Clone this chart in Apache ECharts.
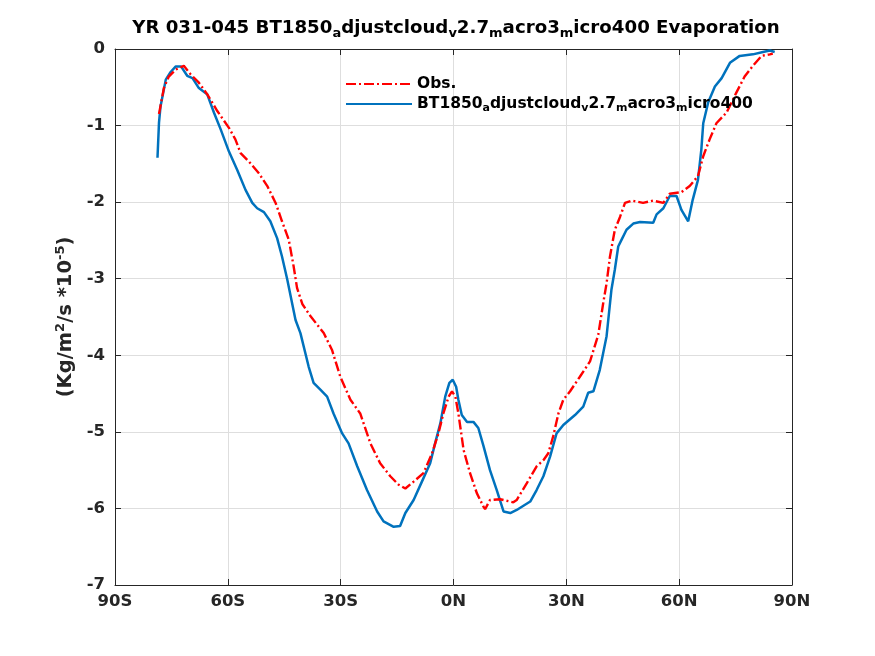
<!DOCTYPE html>
<html>
<head>
<meta charset="utf-8">
<script src="https://cdn.jsdelivr.net/npm/echarts@6/dist/echarts.min.js"></script>
<style>
  html, body { margin: 0; padding: 0; background: #fff; }
  #main { width: 875px; height: 656px; }
</style>
</head>
<body>
<div id="main"></div>
<script>
// x ticks (latitude) and y ticks
var xTicks = [-90, -60, -30, 0, 30, 60, 90];
var xTickLabels = ['90S', '60S', '30S', '0N', '30N', '60N', '90N'];
var yTicks = [-7, -6, -5, -4, -3, -2, -1, 0];

// model run (blue)
var modelLat = [-78.7, -78.3, -77.9, -76.5, -75.2, -73.9, -72.4, -70.8, -69.4, -67.7,
    -65.5, -63.7, -61.9, -59.7, -57.5, -55.3, -53.5, -52.2, -50.4, -48.7,
    -46.9, -45.6, -44.2, -42.0, -40.7, -38.5, -37.2, -35.4, -33.6, -31.9,
    -29.6, -27.9, -25.6, -23.0, -20.3, -18.6, -15.9, -14.2, -12.8, -10.6,
    -8.4, -6.2, -4.9, -3.5, -2.2, -1.1, -0.2, 0.7, 1.3, 2.2,
    3.6, 5.3, 6.6, 8.0, 9.7, 11.5, 13.3, 15.1, 16.8, 20.4,
    22.1, 23.9, 25.7, 27.4, 29.2, 32.3, 34.5, 35.8, 37.2, 38.9,
    40.7, 42.0, 42.9, 43.8, 44.7, 46.0, 47.8, 49.6, 53.1, 54.0,
    55.8, 57.5, 59.3, 60.6, 62.4, 63.6, 65.0, 65.9, 66.4, 67.7,
    69.5, 71.3, 73.5, 76.1, 79.6, 82.3, 84.1, 85.4];
var modelEvap = [-1.42, -0.96, -0.75, -0.40, -0.30, -0.23, -0.23, -0.35, -0.38, -0.51,
    -0.59, -0.83, -1.05, -1.34, -1.58, -1.84, -2.01, -2.08, -2.13, -2.25,
    -2.47, -2.71, -3.01, -3.54, -3.71, -4.15, -4.36, -4.45, -4.54, -4.76,
    -5.02, -5.15, -5.45, -5.76, -6.04, -6.17, -6.24, -6.23, -6.06, -5.89,
    -5.65, -5.41, -5.15, -4.89, -4.54, -4.36, -4.32, -4.41, -4.58, -4.78,
    -4.87, -4.87, -4.95, -5.19, -5.50, -5.76, -6.04, -6.06, -6.02, -5.91,
    -5.76, -5.58, -5.32, -5.02, -4.91, -4.78, -4.67, -4.49, -4.47, -4.19,
    -3.75, -3.14, -2.88, -2.58, -2.49, -2.36, -2.28, -2.26, -2.27, -2.16,
    -2.08, -1.92, -1.92, -2.10, -2.25, -1.97, -1.71, -1.31, -0.97, -0.70,
    -0.49, -0.38, -0.18, -0.09, -0.07, -0.04, -0.02, -0.04];

// observations (red)
var obsLat = [-78.3, -77.0, -75.7, -73.9, -71.7, -69.9, -67.7, -65.5, -62.8, -59.7,
    -58.0, -56.6, -54.4, -51.8, -49.5, -47.3, -45.6, -43.8, -42.5, -41.6,
    -40.2, -38.0, -34.5, -32.3, -30.1, -27.4, -24.8, -22.1, -19.5, -16.8,
    -14.6, -12.8, -10.6, -8.0, -5.7, -4.0, -2.7, -1.3, -0.4, 0.5,
    1.3, 2.7, 4.4, 6.2, 8.0, 8.4, 9.7, 12.4, 15.9, 16.8,
    19.5, 22.1, 23.9, 25.2, 26.5, 27.9, 29.2, 31.0, 33.6, 36.3,
    38.5, 39.8, 40.7, 41.6, 42.9, 44.3, 45.6, 47.4, 50.4, 53.1,
    55.8, 57.5, 60.6, 62.8, 65.0, 66.4, 68.1, 69.9, 72.6, 75.2,
    77.4, 79.6, 81.9, 84.1, 84.9];
var obsEvap = [-0.85, -0.51, -0.36, -0.27, -0.22, -0.33, -0.44, -0.59, -0.81, -1.03,
    -1.18, -1.36, -1.47, -1.62, -1.79, -2.01, -2.25, -2.49, -2.84, -3.12,
    -3.33, -3.49, -3.71, -3.93, -4.28, -4.58, -4.76, -5.15, -5.41, -5.58,
    -5.69, -5.74, -5.65, -5.54, -5.28, -5.02, -4.76, -4.54, -4.47, -4.54,
    -4.76, -5.24, -5.54, -5.80, -5.98, -6.01, -5.89, -5.88, -5.92, -5.89,
    -5.67, -5.45, -5.37, -5.28, -5.06, -4.76, -4.58, -4.47, -4.28, -4.08,
    -3.73, -3.32, -3.06, -2.71, -2.36, -2.19, -2.01, -1.98, -2.01, -1.98,
    -2.01, -1.89, -1.87, -1.79, -1.66, -1.40, -1.18, -0.97, -0.83, -0.57,
    -0.36, -0.22, -0.09, -0.07, -0.06];

var caseName = 'BT1850_adjustcloud_v2.7_macro3_micro400';

function zip(xs, ys) {
    var out = [];
    for (var i = 0; i < xs.length; i++) out.push([xs[i], ys[i]]);
    return out;
}

// turn MATLAB-style "_x" into rich subscript (flat rich tags)
function subs(s) {
    return '{t|' + s.replace(/_(\w)/g, '}{s|$1}{t|') + '}';
}

var font = 'DejaVu Sans';
var dark = '#262626';

var chart = echarts.init(document.getElementById('main'));

var option = {
    animation: false,
    backgroundColor: '#fff',
    title: {
        text: subs('YR 031-045 ' + caseName + ' Evaporation'),
        left: 451,
        top: 12,
        textAlign: 'center',
        textStyle: {
            rich: {
                t: { fontFamily: font, fontSize: 18.2, fontWeight: 'bold', color: '#000', lineHeight: 23 },
                s: { fontFamily: font, fontSize: 13, fontWeight: 'bold', color: '#000', lineHeight: 13, verticalAlign: 'bottom' }
            }
        }
    },
    legend: {
        orient: 'vertical',
        left: 340,
        top: 71,
        itemWidth: 66,
        itemHeight: 14,
        itemGap: 4,
        icon: 'inherit',
        itemStyle: { opacity: 0 },
        data: ['Obs.', caseName],
        formatter: function (name) { return subs(name); },
        textStyle: {
            rich: {
                t: { fontFamily: font, fontSize: 15.5, fontWeight: 'bold', color: '#000', lineHeight: 19 },
                s: { fontFamily: font, fontSize: 11, fontWeight: 'bold', color: '#000', lineHeight: 11, verticalAlign: 'bottom' }
            }
        }
    },
    grid: { left: 115, right: 83, top: 49, bottom: 71 },
    xAxis: [{
        type: 'value',
        min: -90, max: 90, interval: 30,
        axisLine: { show: true, onZero: false, lineStyle: { color: dark, width: 1 } },
        axisTick: { show: true, inside: true, length: 6, lineStyle: { color: dark } },
        axisLabel: {
            fontFamily: font, fontSize: 16.5, fontWeight: 'bold', color: dark, margin: 8,
            formatter: function (v) { return xTickLabels[xTicks.indexOf(v)]; }
        },
        splitLine: { show: true, lineStyle: { color: '#dedede', width: 1 } }
    }, {
        type: 'value', position: 'top',
        min: -90, max: 90, interval: 30,
        axisLine: { show: true, onZero: false, lineStyle: { color: dark, width: 1 } },
        axisTick: { show: true, inside: true, length: 6, lineStyle: { color: dark } },
        axisLabel: { show: false },
        splitLine: { show: false }
    }],
    yAxis: [{
        type: 'value',
        min: yTicks[0], max: yTicks[yTicks.length - 1], interval: 1,
        name: '{t|(Kg/m}{p|2}{t|/s *10}{p|-5}{t|)}',
        nameLocation: 'middle',
        nameGap: 31,
        nameTextStyle: {
            rich: {
                t: { fontFamily: font, fontSize: 19.5, fontWeight: 'bold', color: dark, lineHeight: 24 },
                p: { fontFamily: font, fontSize: 13, fontWeight: 'bold', color: dark, lineHeight: 13, verticalAlign: 'top' }
            }
        },
        axisLine: { show: true, onZero: false, lineStyle: { color: dark, width: 1 } },
        axisTick: { show: true, inside: true, length: 6, lineStyle: { color: dark } },
        axisLabel: { fontFamily: font, fontSize: 16.5, fontWeight: 'bold', color: dark, margin: 10 },
        splitLine: { show: true, lineStyle: { color: '#dedede', width: 1 } }
    }, {
        type: 'value', position: 'right',
        min: yTicks[0], max: yTicks[yTicks.length - 1], interval: 1,
        axisLine: { show: true, onZero: false, lineStyle: { color: dark, width: 1 } },
        axisTick: { show: true, inside: true, length: 6, lineStyle: { color: dark } },
        axisLabel: { show: false },
        splitLine: { show: false }
    }],
    series: [{
        name: 'Obs.',
        type: 'line',
        symbol: 'none',
        z: 3,
        data: zip(obsLat, obsEvap),
        lineStyle: { color: '#ff0000', width: 2.4, type: [10, 3, 2, 3] },
        itemStyle: { color: '#ff0000' }
    }, {
        name: caseName,
        type: 'line',
        symbol: 'none',
        z: 2,
        data: zip(modelLat, modelEvap),
        lineStyle: { color: '#0072bd', width: 2.5 },
        itemStyle: { color: '#0072bd' }
    }]
};

chart.setOption(option);
</script>
</body>
</html>
